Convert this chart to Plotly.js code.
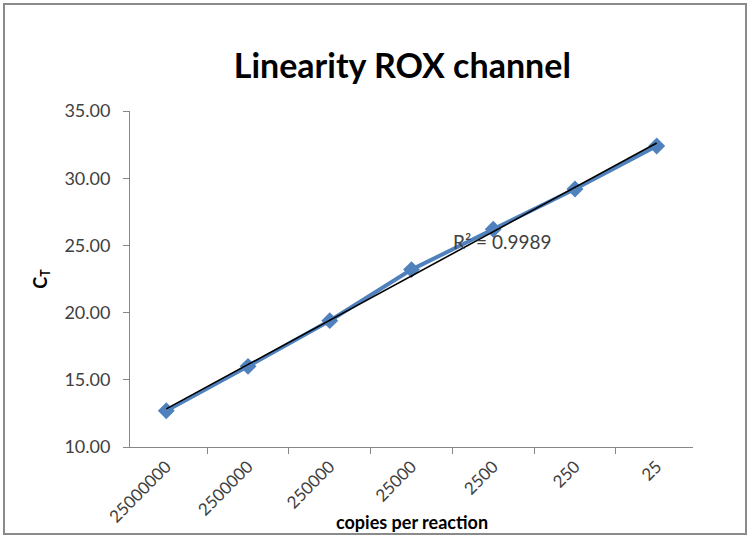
<!DOCTYPE html>
<html>
<head>
<meta charset="utf-8">
<script src="https://cdn.plot.ly/plotly-3.0.1.min.js"></script>
<style>
html,body{margin:0;padding:0;background:#fff;}
#wrap{position:relative;width:752px;height:538px;}
#chart{position:absolute;left:0;top:0;width:752px;height:538px;}
#frame{position:absolute;left:3px;top:3px;width:740px;height:528px;border:2px solid #8a8a8a;pointer-events:none;}
</style>
</head>
<body>
<div id="wrap"><div id="chart"></div><div id="frame"></div></div>
<script>
// Data
const categories = ["25000000", "2500000", "250000", "25000", "2500", "250", "25"];
const ctValues = [12.7, 16.0, 19.4, 23.2, 26.2, 29.2, 32.4];
const rSquaredText = "R² = 0.9989";
const yTickValues = [10, 15, 20, 25, 30, 35];

// Linear trendline (least squares on category index 1..n, as Excel does)
const n = ctValues.length;
const xs = ctValues.map((_, i) => i + 1);
const mx = xs.reduce((a, b) => a + b, 0) / n;
const my = ctValues.reduce((a, b) => a + b, 0) / n;
let sxy = 0, sxx = 0;
for (let i = 0; i < n; i++) { sxy += (xs[i] - mx) * (ctValues[i] - my); sxx += (xs[i] - mx) ** 2; }
const slope = sxy / sxx;
const intercept = my - slope * mx;
const trendY = xs.map(x => intercept + slope * x);

const FONT = "Lato, 'Open Sans', sans-serif";

const traces = [
  {
    type: "scatter", mode: "lines+markers",
    x: categories, y: ctValues,
    line: {color: "#4f81bd", width: 4},
    marker: {symbol: "diamond", size: 13, color: "#4f81bd"},
    showlegend: false, hoverinfo: "x+y"
  },
  {
    type: "scatter", mode: "lines",
    x: categories, y: trendY,
    line: {color: "#000000", width: 1.6},
    showlegend: false, hoverinfo: "skip"
  }
];

const layout = {
  width: 752, height: 538,
  paper_bgcolor: "#ffffff", plot_bgcolor: "#ffffff",
  margin: {l: 130, r: 59, t: 111, b: 91, pad: 0},
  font: {family: FONT, color: "#404040"},
  title: {
    text: "<b>Linearity ROX channel</b>",
    font: {family: FONT, size: 34, color: "#000000"},
    xref: "container", yref: "container",
    x: 0.535, y: 0.878, xanchor: "center", yanchor: "middle"
  },
  xaxis: {
    type: "category",
    tickangle: -45,
    tickson: "boundaries",
    ticks: "outside", ticklen: 6, tickcolor: "#868686", tickwidth: 1,
    showline: true, linecolor: "#868686", linewidth: 1,
    showgrid: false, zeroline: false,
    tickfont: {family: FONT, size: 17, color: "#404040"},
    ticklabelstandoff: 2
  },
  yaxis: {
    range: [10, 35],
    tickvals: yTickValues,
    ticktext: yTickValues.map(v => v.toFixed(2)),
    ticks: "outside", ticklen: 6, tickcolor: "#868686", tickwidth: 1,
    showline: true, linecolor: "#868686", linewidth: 1,
    showgrid: false, zeroline: false,
    tickfont: {family: FONT, size: 18, color: "#404040"},
    ticklabelstandoff: 9,
    title: {text: "<b>C<sub>T</sub></b>", font: {family: FONT, size: 18, color: "#000000"}, standoff: 12}
  },
  annotations: [
    {
      xref: "paper", yref: "paper",
      x: 0.661, y: 0.613, xanchor: "center", yanchor: "middle",
      text: rSquaredText, showarrow: false,
      font: {family: FONT, size: 19, color: "#404040"}
    },
    {
      xref: "paper", yref: "paper",
      x: 0.501, y: -0.222, xanchor: "center", yanchor: "middle",
      text: "<b>copies per reaction</b>", showarrow: false,
      font: {family: FONT, size: 18, color: "#000000"}
    }
  ]
};

Plotly.newPlot("chart", traces, layout, {displayModeBar: false, staticPlot: true});
</script>
</body>
</html>
